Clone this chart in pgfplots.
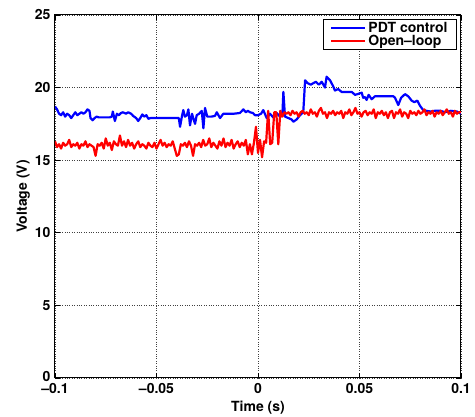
\documentclass[border=0pt]{standalone}
\usepackage{fontspec}
\setmainfont{TeX Gyre Heros}
\usepackage{pgfplots}
\pgfplotsset{compat=1.18}
\begin{document}
\begin{tikzpicture}
\begin{axis}[
  scale only axis, width=406pt, height=363pt,
  xmin=-0.1, xmax=0.1, ymin=0, ymax=25,
  xtick={-0.1,-0.05,0,0.05,0.1},
  xticklabels={{--0.1},{--0.05},0,0.05,0.1},
  ytick={0,5,10,15,20,25},
  yticklabels={{\raisebox{3pt}{0}},5,10,15,20,25},
  tick align=inside, tick pos=both,
  major tick length=5pt,
  grid=major,
  major grid style={black!75, dotted, line width=0.7pt},
  axis line style={line width=1pt},
  every tick/.style={black, line width=0.8pt},
  tick label style={font=\fontsize{14}{16}\selectfont\bfseries},
  xticklabel style={yshift=-1.5pt},
  yticklabel style={xshift=-1pt},
  label style={font=\fontsize{14}{16}\selectfont\bfseries},
  xlabel={Time (s)}, ylabel={Voltage (V)},
  xlabel style={yshift=-1pt},
  ylabel style={yshift=-2pt},
  legend style={at={(0.99,0.99)}, anchor=north east, draw=black, line width=0.8pt,
    font=\fontsize{14}{16}\selectfont\bfseries, legend cell align=left,
    inner xsep=7pt, inner ysep=1pt, row sep=-3pt},
  legend image code/.code={\draw[#1, line width=2pt] (0pt,0pt) -- (34pt,0pt);},
]
\addplot[blue, line width=2.2pt, line join=round] coordinates {
(-0.1000,18.7) (-0.0990,18.5) (-0.0980,18.2) (-0.0970,18.1) (-0.0960,18.3)
(-0.0950,18.0) (-0.0940,18.2) (-0.0930,18.1) (-0.0920,17.9) (-0.0910,18.1)
(-0.0900,18.3) (-0.0890,18.1) (-0.0880,18.2) (-0.0870,18.3) (-0.0860,18.2)
(-0.0850,18.3) (-0.0840,18.5) (-0.0830,18.4) (-0.0825,17.9) (-0.0815,17.75)
(-0.0805,17.9) (-0.0795,18.0) (-0.0785,17.95) (-0.0730,17.95) (-0.0720,18.0)
(-0.0715,18.35) (-0.0705,17.7) (-0.0695,18.2) (-0.0685,18.1) (-0.0675,18.25)
(-0.0665,18.3) (-0.0650,18.2) (-0.0640,18.3) (-0.0625,18.2) (-0.0615,18.05)
(-0.0600,17.9) (-0.0590,17.7) (-0.0580,17.9) (-0.0570,18.15) (-0.0560,18.0)
(-0.0550,18.1) (-0.0540,17.85) (-0.0530,17.9) (-0.0520,17.9) (-0.0390,17.9)
(-0.0384,17.3) (-0.0375,18.0) (-0.0368,18.45) (-0.0360,18.0) (-0.0350,18.1)
(-0.0343,18.5) (-0.0335,17.4) (-0.0325,18.2) (-0.0319,17.9) (-0.0310,17.5)
(-0.0302,18.1) (-0.0290,18.2) (-0.0277,18.4) (-0.0269,17.2) (-0.0261,18.6)
(-0.0250,18.0) (-0.0230,18.0) (-0.0212,18.05) (-0.0203,18.3) (-0.0195,18.1)
(-0.0187,17.9) (-0.0171,18.2) (-0.0120,18.2) (-0.0089,18.25) (-0.0072,18.5)
(-0.0060,18.3) (-0.0050,18.4) (-0.0039,18.3) (-0.0025,18.25) (-0.0015,18.1)
(0.0000,18.1) (0.0015,18.2) (0.0026,18.45) (0.0043,17.9) (0.0059,18.2)
(0.0075,17.95) (0.0092,18.25) (0.0108,18.0) (0.0120,18.1) (0.0125,19.7)
(0.0133,18.0) (0.0150,17.9) (0.0166,17.8) (0.0174,17.65) (0.0190,17.8)
(0.0207,18.1) (0.0223,18.3) (0.0232,20.5) (0.0245,20.3) (0.0260,20.2)
(0.0272,20.3) (0.0285,20.4) (0.0300,20.2) (0.0314,20.4) (0.0330,20.0)
(0.0338,20.75) (0.0355,20.5) (0.0370,20.1) (0.0379,19.8) (0.0395,19.9)
(0.0412,19.7) (0.0462,19.7) (0.0478,19.5) (0.0490,19.55) (0.0500,19.6)
(0.0511,19.65) (0.0518,19.3) (0.0527,19.35) (0.0535,19.15) (0.0545,19.5)
(0.0560,19.2) (0.0576,19.4) (0.0667,19.4) (0.0675,19.3) (0.0691,18.8)
(0.0705,19.3) (0.0724,19.55) (0.0740,19.4) (0.0757,19.1) (0.0770,19.0)
(0.0785,19.1) (0.0798,18.75) (0.0814,18.45) (0.0830,18.4) (0.0850,18.35)
(0.0870,18.4) (0.0900,18.4) (0.0920,18.3) (0.0950,18.4) (0.0980,18.35)
(0.1000,18.2)
};
\addlegendentry{PDT control}
\addplot[red, line width=2.2pt, line join=round] coordinates {
(-0.100,16.3) (-0.099,15.9) (-0.098,16.1) (-0.097,15.8) (-0.096,16.2)
(-0.095,16.0) (-0.094,16.1) (-0.093,16.4) (-0.092,15.9) (-0.091,16.1)
(-0.090,16.0) (-0.089,16.2) (-0.088,15.8) (-0.087,16.1) (-0.086,16.0)
(-0.085,16.3) (-0.084,15.9) (-0.083,16.1) (-0.082,16.0) (-0.081,15.9)
(-0.080,15.3) (-0.079,16.1) (-0.078,16.0) (-0.077,16.2) (-0.076,15.8)
(-0.075,16.5) (-0.074,16.0) (-0.073,16.2) (-0.072,15.7) (-0.071,16.3)
(-0.070,16.1) (-0.069,16.0) (-0.068,16.7) (-0.067,16.0) (-0.066,16.3)
(-0.065,15.9) (-0.064,16.4) (-0.063,16.0) (-0.062,16.2) (-0.061,15.8)
(-0.060,16.1) (-0.059,16.3) (-0.058,15.9) (-0.057,16.1) (-0.056,16.0)
(-0.055,15.8) (-0.054,16.2) (-0.053,16.0) (-0.052,15.9) (-0.051,16.2)
(-0.050,15.8) (-0.049,16.1) (-0.048,16.4) (-0.047,16.0) (-0.046,16.2)
(-0.045,15.9) (-0.044,16.1) (-0.043,16.0) (-0.042,16.3) (-0.041,15.8)
(-0.040,15.3) (-0.039,15.4) (-0.038,16.1) (-0.037,16.0) (-0.036,16.2)
(-0.035,15.9) (-0.034,16.3) (-0.033,16.0) (-0.032,15.3) (-0.031,16.1)
(-0.030,16.0) (-0.029,16.2) (-0.028,15.9) (-0.027,16.4) (-0.026,16.0)
(-0.025,16.1) (-0.024,16.5) (-0.023,15.9) (-0.022,16.2) (-0.021,16.0)
(-0.020,15.8) (-0.019,16.3) (-0.018,16.0) (-0.017,16.5) (-0.016,15.9)
(-0.015,16.2) (-0.014,16.0) (-0.013,16.4) (-0.012,15.8) (-0.011,16.1)
(-0.010,16.3) (-0.009,15.9) (-0.008,16.2) (-0.007,16.0) (-0.006,16.4)
(-0.005,15.4) (-0.004,16.1) (-0.003,15.4) (-0.002,16.2) (-0.001,17.3)
(0.000,15.5) (0.001,16.4) (0.002,15.2) (0.003,16.3) (0.004,16.2)
(0.005,18.4) (0.006,16.1) (0.007,16.2) (0.008,18.3) (0.009,18.3)
(0.010,16.1) (0.011,18.4) (0.012,18.0) (0.013,18.3) (0.014,18.2)
(0.015,18.3) (0.016,18.1) (0.017,18.4) (0.018,18.2) (0.019,18.3)
(0.020,18.0) (0.021,18.3) (0.022,18.4) (0.023,18.2) (0.024,18.3)
(0.025,18.1) (0.026,18.5) (0.027,18.2) (0.028,18.3) (0.029,18.0)
(0.030,18.4) (0.031,18.6) (0.032,18.2) (0.033,18.3) (0.034,17.9)
(0.035,18.3) (0.036,18.2) (0.037,18.4) (0.038,18.1) (0.039,18.3)
(0.040,18.2) (0.041,18.4) (0.042,17.9) (0.043,18.3) (0.044,18.2)
(0.045,18.5) (0.046,18.1) (0.047,18.3) (0.048,18.6) (0.049,18.2)
(0.050,18.3) (0.051,18.0) (0.052,18.3) (0.053,18.4) (0.054,18.1)
(0.055,18.3) (0.056,18.2) (0.057,18.5) (0.058,17.9) (0.059,18.3)
(0.060,18.2) (0.061,18.4) (0.062,18.1) (0.063,18.3) (0.064,17.9)
(0.065,18.3) (0.066,18.4) (0.067,17.9) (0.068,18.3) (0.069,18.2)
(0.070,18.5) (0.071,18.0) (0.072,18.3) (0.073,18.2) (0.074,17.9)
(0.075,18.4) (0.076,18.2) (0.077,18.3) (0.078,18.1) (0.079,18.4)
(0.080,18.2) (0.081,18.3) (0.082,18.5) (0.083,18.1) (0.084,18.3)
(0.085,18.2) (0.086,18.4) (0.087,18.0) (0.088,18.3) (0.089,18.2)
(0.090,18.4) (0.091,18.1) (0.092,18.3) (0.093,18.5) (0.094,18.2)
(0.095,18.3) (0.096,18.0) (0.097,18.4) (0.098,18.2) (0.099,18.3)
(0.100,18.3)
};
\addlegendentry{Open--loop}
\end{axis}
\pgfresetboundingbox
\useasboundingbox ([xshift=-55pt,yshift=-39pt]current axis.south west) rectangle ([xshift=14pt,yshift=15pt]current axis.north east);
\end{tikzpicture}
\end{document}
